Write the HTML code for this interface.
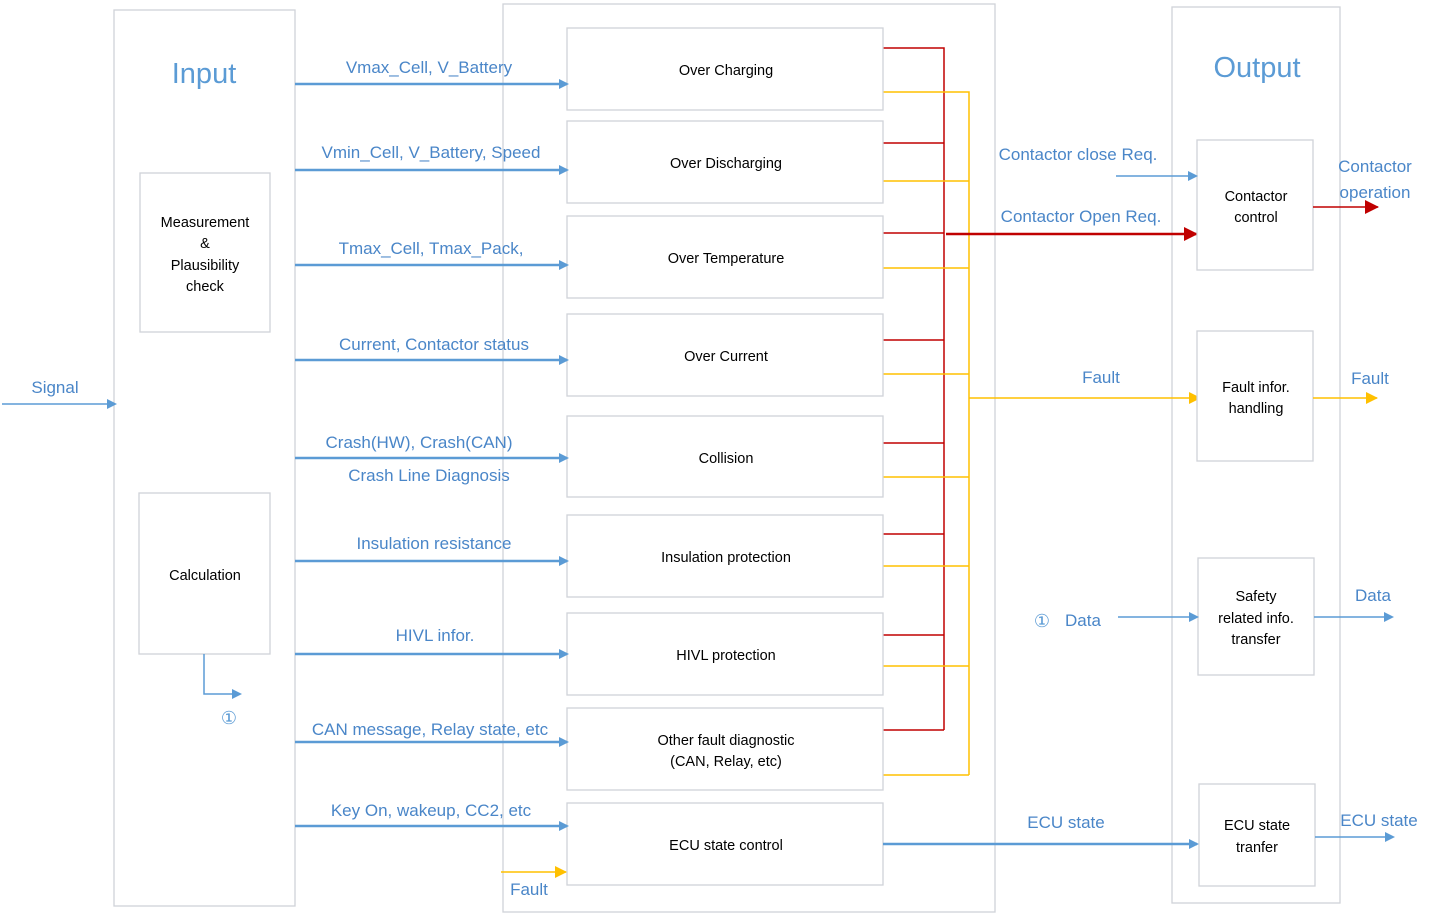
<!DOCTYPE html>
<html><head><meta charset="utf-8"><style>
html,body{margin:0;padding:0;background:#fff;}
svg{display:block;}
text{font-family:"Liberation Sans",sans-serif;}
.b{fill:#fff;stroke:#d0d3d8;stroke-width:1.3;}
.t{font-size:14.5px;fill:#000;text-anchor:middle;}
.l{font-size:17px;fill:#4a86c8;text-anchor:middle;}
.ba{stroke:#5b9bd5;stroke-width:2.5;fill:none;}
.bt{stroke:#5b9bd5;stroke-width:1.5;fill:none;}
.r{stroke:#c00000;stroke-width:1.5;fill:none;}
.y{stroke:#ffc000;stroke-width:1.5;fill:none;}
</style></head><body>
<svg width="1435" height="924" viewBox="0 0 1435 924" xmlns="http://www.w3.org/2000/svg">
<defs>
<marker id="ab" markerWidth="10" markerHeight="10" refX="8" refY="5" orient="auto" markerUnits="userSpaceOnUse"><path d="M0,0 L10,5 L0,10 z" fill="#5b9bd5"/></marker>
<marker id="ar" markerWidth="14" markerHeight="14" refX="13" refY="7" orient="auto" markerUnits="userSpaceOnUse"><path d="M0,0 L14,7 L0,14 z" fill="#c00000"/></marker>
<marker id="ay" markerWidth="12" markerHeight="12" refX="11" refY="6" orient="auto" markerUnits="userSpaceOnUse"><path d="M0,0 L12,6 L0,12 z" fill="#ffc000"/></marker>
</defs>
<!-- containers -->
<rect class="b" x="114" y="10" width="181" height="896"/>
<rect class="b" x="503" y="4" width="492" height="908"/>
<rect class="b" x="1172" y="7" width="168" height="896"/>
<text x="204" y="83" style="font-size:29px;fill:#5b9bd5;text-anchor:middle">Input</text>
<text x="1257" y="77" style="font-size:29px;fill:#5b9bd5;text-anchor:middle">Output</text>
<!-- input boxes -->
<rect class="b" x="140" y="173" width="130" height="159"/>
<text class="t" x="205" y="227">Measurement</text>
<text class="t" x="205" y="248">&amp;</text>
<text class="t" x="205" y="270">Plausibility</text>
<text class="t" x="205" y="291">check</text>
<rect class="b" x="139" y="493" width="131" height="161"/>
<text class="t" x="205" y="580">Calculation</text>
<path class="bt" d="M204,654 V694 H240" marker-end="url(#ab)"/>
<text x="229" y="724" style="font-size:18px;fill:#5b9bd5;text-anchor:middle">①</text>
<path class="bt" d="M2,404 H115" marker-end="url(#ab)"/>
<text class="l" x="55" y="393">Signal</text>
<!-- red/yellow bus -->
<path class="r" d="M883,48 H944 V730 M883,143 H944 M883,233 H944 M883,340 H944 M883,443 H944 M883,534 H944 M883,635 H944 M883,730 H944"/>
<path class="y" d="M883,92 H969 V775 M883,181 H969 M883,268 H969 M883,374 H969 M883,477 H969 M883,566 H969 M883,666 H969 M883,775 H969"/>
<path d="M946,234 H1197" stroke="#c00000" stroke-width="2.5" marker-end="url(#ar)"/>
<path class="y" d="M969,398 H1200" marker-end="url(#ay)"/>
<!-- middle boxes -->
<g>
<rect class="b" x="567" y="28" width="316" height="82"/><text class="t" x="726" y="75">Over Charging</text>
<rect class="b" x="567" y="121" width="316" height="82"/><text class="t" x="726" y="168">Over Discharging</text>
<rect class="b" x="567" y="216" width="316" height="82"/><text class="t" x="726" y="263">Over Temperature</text>
<rect class="b" x="567" y="314" width="316" height="82"/><text class="t" x="726" y="361">Over Current</text>
<rect class="b" x="567" y="416" width="316" height="81"/><text class="t" x="726" y="463">Collision</text>
<rect class="b" x="567" y="515" width="316" height="82"/><text class="t" x="726" y="562">Insulation protection</text>
<rect class="b" x="567" y="613" width="316" height="82"/><text class="t" x="726" y="660">HIVL protection</text>
<rect class="b" x="567" y="708" width="316" height="82"/><text class="t" x="726" y="745">Other fault diagnostic</text><text class="t" x="726" y="766">(CAN, Relay, etc)</text>
<rect class="b" x="567" y="803" width="316" height="82"/><text class="t" x="726" y="850">ECU state control</text>
</g>
<!-- input arrows -->
<g class="ba">
<path d="M295,84 H567" marker-end="url(#ab)"/>
<path d="M295,170 H567" marker-end="url(#ab)"/>
<path d="M295,265 H567" marker-end="url(#ab)"/>
<path d="M295,360 H567" marker-end="url(#ab)"/>
<path d="M295,458 H567" marker-end="url(#ab)"/>
<path d="M295,561 H567" marker-end="url(#ab)"/>
<path d="M295,654 H567" marker-end="url(#ab)"/>
<path d="M295,742 H567" marker-end="url(#ab)"/>
<path d="M295,826 H567" marker-end="url(#ab)"/>
</g>
<text class="l" x="429" y="73">Vmax_Cell, V_Battery</text>
<text class="l" x="431" y="158">Vmin_Cell, V_Battery, Speed</text>
<text class="l" x="431" y="254">Tmax_Cell, Tmax_Pack,</text>
<text class="l" x="434" y="350">Current, Contactor status</text>
<text class="l" x="419" y="448">Crash(HW), Crash(CAN)</text>
<text class="l" x="429" y="481">Crash Line Diagnosis</text>
<text class="l" x="434" y="549">Insulation resistance</text>
<text class="l" x="435" y="641">HIVL infor.</text>
<text class="l" x="430" y="735">CAN message, Relay state, etc</text>
<text class="l" x="431" y="816">Key On, wakeup, CC2, etc</text>
<path class="y" d="M501,872 H566" marker-end="url(#ay)"/>
<text class="l" x="529" y="895">Fault</text>
<!-- output side -->
<rect class="b" x="1197" y="140" width="116" height="130"/>
<text class="t" x="1256" y="201">Contactor</text><text class="t" x="1256" y="222">control</text>
<rect class="b" x="1197" y="331" width="116" height="130"/>
<text class="t" x="1256" y="392">Fault infor.</text><text class="t" x="1256" y="413">handling</text>
<rect class="b" x="1198" y="558" width="116" height="117"/>
<text class="t" x="1256" y="601">Safety</text><text class="t" x="1256" y="623">related info.</text><text class="t" x="1256" y="644">transfer</text>
<rect class="b" x="1199" y="784" width="116" height="102"/>
<text class="t" x="1257" y="830">ECU state</text><text class="t" x="1257" y="852">tranfer</text>
<path class="bt" d="M1116,176 H1196" marker-end="url(#ab)"/>
<text class="l" x="1078" y="160">Contactor close Req.</text>
<text class="l" x="1081" y="222">Contactor Open Req.</text>
<text class="l" x="1101" y="383">Fault</text>
<path d="M1313,207 H1378" stroke="#c00000" stroke-width="1.5" marker-end="url(#ar)"/>
<text class="l" x="1375" y="172">Contactor</text>
<text class="l" x="1375" y="198">operation</text>
<path class="y" d="M1313,398 H1377" marker-end="url(#ay)"/>
<text class="l" x="1370" y="384">Fault</text>
<path class="bt" d="M1118,617 H1197" marker-end="url(#ab)"/>
<text x="1042" y="627" style="font-size:18px;fill:#5b9bd5;text-anchor:middle">①</text>
<text class="l" x="1083" y="626">Data</text>
<path class="bt" d="M1314,617 H1392" marker-end="url(#ab)"/>
<text class="l" x="1373" y="601">Data</text>
<path d="M883,844 H1197" stroke="#5b9bd5" stroke-width="2.5" marker-end="url(#ab)"/>
<text class="l" x="1066" y="828">ECU state</text>
<path class="bt" d="M1315,837 H1393" marker-end="url(#ab)"/>
<text class="l" x="1379" y="826">ECU state</text>
</svg>
</body></html>
